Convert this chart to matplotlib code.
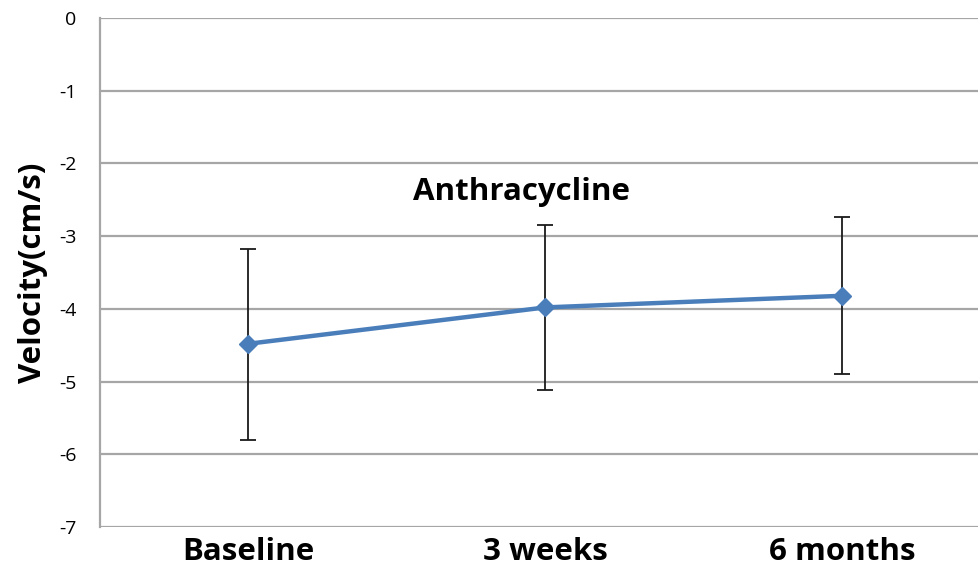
import numpy as np
import matplotlib
matplotlib.use("Agg")
import matplotlib.pyplot as plt

# chart data
categories = ["Baseline", "3 weeks", "6 months"]
velocity = [-4.48, -3.98, -3.82]
err_upper = [-3.17, -2.84, -2.73]
err_lower = [-5.81, -5.12, -4.90]
y_ticks = [0, -1, -2, -3, -4, -5, -6, -7]

plt.rcParams['font.family'] = ['Open Sans', 'DejaVu Sans']

fig = plt.figure(figsize=(9.79, 5.70), dpi=100)
ax = fig.add_axes([100 / 979, 1 - 527 / 570, 879 / 979, 509 / 570])

x = np.arange(len(categories))
vel = np.array(velocity)
yerr = np.vstack([vel - np.array(err_lower), np.array(err_upper) - vel])

ax.errorbar(x, vel, yerr=yerr, fmt='none', ecolor='#1a1a1a', elinewidth=1.3,
            capsize=6, capthick=1.3, zorder=3)
ax.plot(x, vel, color='#4a7ebb', linewidth=3.2, marker='D', markersize=9,
        markerfacecolor='#4a7ebb', markeredgecolor='#4a7ebb', zorder=4)

ax.set_ylim(-7, 0)
ax.set_xlim(-0.5, 2.46)
ax.set_yticks(y_ticks)
ax.set_yticklabels([str(t) for t in y_ticks])
ax.set_xticks(x)
ax.set_xticklabels(categories, fontsize=22.5, fontweight='bold')
ax.tick_params(axis='both', length=0)
ax.tick_params(axis='y', labelsize=14, pad=17)
ax.tick_params(axis='x', pad=7)

ax.yaxis.grid(True, color='#a6a6a6', linewidth=1.6)
ax.set_axisbelow(True)
for s in ['top', 'right', 'bottom']:
    ax.spines[s].set_visible(False)
ax.spines['left'].set_color('#a6a6a6')
ax.spines['left'].set_linewidth(1.6)

ax.set_ylabel("Velocity(cm/s)", fontsize=22.5, fontweight='bold', labelpad=8)
ax.text(0.479, 0.658, "Anthracycline", transform=ax.transAxes, ha='center',
        va='center', fontsize=22.5, fontweight='bold')

fig.savefig("out.png", dpi=100)
